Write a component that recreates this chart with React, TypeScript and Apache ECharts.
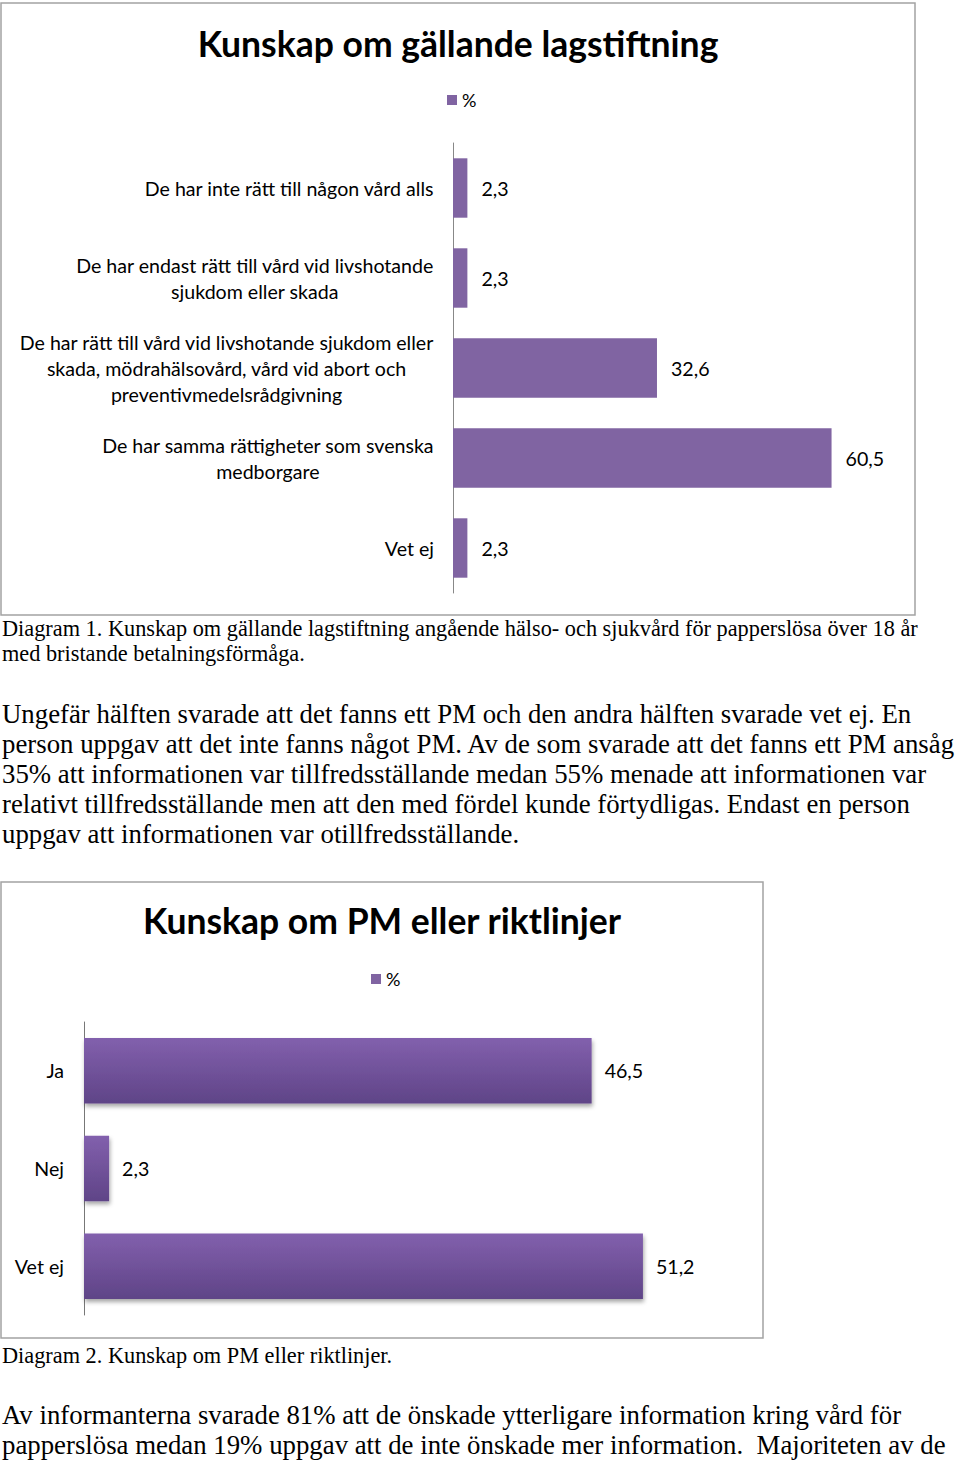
import React, { useEffect, useRef } from "react";
import * as echarts from "echarts";

const categories1 = [
  "De har inte rätt till någon vård alls",
  "De har endast rätt till vård vid livshotande\nsjukdom eller skada",
  "De har rätt till vård vid livshotande sjukdom eller\nskada, mödrahälsovård, vård vid abort och\npreventivmedelsrådgivning",
  "De har samma rättigheter som svenska\nmedborgare",
  "Vet ej",
];
const values1 = [2.3, 2.3, 32.6, 60.5, 2.3];

const categories2 = ["Ja", "Nej", "Vet ej"];
const values2 = [46.5, 2.3, 51.2];

const seriesName = "%";
const title1 = "Kunskap om gällande lagstiftning";
const title2 = "Kunskap om PM eller riktlinjer";

const caption1Lines = [
  "Diagram 1. Kunskap om gällande lagstiftning angående hälso- och sjukvård för papperslösa över 18 år",
  "med bristande betalningsförmåga.",
];
const paragraph1Lines = [
  "Ungefär hälften svarade att det fanns ett PM och den andra hälften svarade vet ej. En",
  "person uppgav att det inte fanns något PM. Av de som svarade att det fanns ett PM ansåg",
  "35% att informationen var tillfredsställande medan 55% menade att informationen var",
  "relativt tillfredsställande men att den med fördel kunde förtydligas. Endast en person",
  "uppgav att informationen var otillfredsställande.",
];
const caption2Lines = ["Diagram 2. Kunskap om PM eller riktlinjer."];
const paragraph2Lines = [
  "Av informanterna svarade 81% att de önskade ytterligare information kring vård för",
  "papperslösa medan 19% uppgav att de inte önskade mer information.  Majoriteten av de",
];

const SANS = "Lato, 'Open Sans', sans-serif";
const SERIF = "'Liberation Serif', 'DejaVu Serif', serif";
const LABEL_SIZE = 19.6;
const fmt = (v: number) => v.toFixed(1).replace(".", ",");

function textLines(lines: string[], y0: number, step: number, size: number) {
  return lines.map((t, i) => ({
    type: "text",
    left: 2,
    top: y0 + i * step - size * 0.58,
    style: { text: t, font: `${size}px ${SERIF}`, fill: "#000" },
  }));
}

export default function App() {
  const ref = useRef<HTMLDivElement>(null);
  useEffect(() => {
    if (!ref.current) return;
    const chart = echarts.init(ref.current, undefined, { renderer: "svg" });
    const purple = "#8064a2";
    const legendBase = {
      data: [seriesName],
      icon: "rect",
      itemWidth: 10,
      itemHeight: 10,
      itemGap: 4,
      padding: 0,
      selectedMode: false,
      textStyle: { fontFamily: SANS, fontSize: 18, color: "#000", padding: [0, 0, 0, 0] },
    };
    const option: any = {
      animation: false,
      backgroundColor: "#fff",
      title: [
        {
          text: title1,
          left: 458,
          top: 25,
          padding: 0,
          textAlign: "center",
          textStyle: { fontFamily: SANS, fontWeight: "bold", fontSize: 35.5, color: "#000" },
        },
        {
          text: title2,
          left: 382,
          top: 902,
          padding: 0,
          textAlign: "center",
          textStyle: { fontFamily: SANS, fontWeight: "bold", fontSize: 35.5, color: "#000" },
        },
      ],
      legend: [
        { ...legendBase, left: 447, top: 91 },
        { ...legendBase, left: 371, top: 970 },
      ],
      grid: [
        { left: 453, top: 143, width: 438, height: 450 },
        { left: 84, top: 1022, width: 655, height: 293 },
      ],
      xAxis: [
        { type: "value", gridIndex: 0, min: 0, max: 70, show: false },
        { type: "value", gridIndex: 1, min: 0, max: 60, show: false },
      ],
      yAxis: [
        {
          type: "category",
          gridIndex: 0,
          data: categories1,
          inverse: true,
          axisLine: { show: true, lineStyle: { color: "#888", width: 1 } },
          axisTick: { show: false },
          axisLabel: {
            margin: 19,
            formatter: (v: string) => v.split("\n").map((l) => `{c|${l}}`).join("\n"),
            rich: { c: { align: "center", fontFamily: SANS, fontSize: LABEL_SIZE, lineHeight: 26, color: "#000" } },
          },
        },
        {
          type: "category",
          gridIndex: 1,
          data: categories2,
          inverse: true,
          axisLine: { show: true, lineStyle: { color: "#777", width: 1 } },
          axisTick: { show: false },
          axisLabel: { margin: 20, fontFamily: SANS, fontSize: LABEL_SIZE, color: "#000" },
        },
      ],
      series: [
        {
          name: seriesName,
          type: "bar",
          xAxisIndex: 0,
          yAxisIndex: 0,
          data: values1,
          barCategoryGap: "34%",
          itemStyle: { color: purple },
          label: {
            show: true,
            position: "right",
            distance: 14,
            formatter: (p: any) => fmt(p.value),
            fontFamily: SANS,
            fontSize: LABEL_SIZE,
            color: "#000",
          },
        },
        {
          name: seriesName,
          type: "bar",
          xAxisIndex: 1,
          yAxisIndex: 1,
          data: values2,
          barCategoryGap: "33%",
          itemStyle: {
            color: new echarts.graphic.LinearGradient(0, 0, 0, 1, [
              { offset: 0, color: "#8260ad" },
              { offset: 1, color: "#5f4487" },
            ]),
            shadowColor: "rgba(0,0,0,0.35)",
            shadowBlur: 4,
            shadowOffsetY: 3,
            shadowOffsetX: 1,
          },
          label: {
            show: true,
            position: "right",
            distance: 13,
            formatter: (p: any) => fmt(p.value),
            fontFamily: SANS,
            fontSize: LABEL_SIZE,
            color: "#000",
          },
        },
      ],
      graphic: [
        {
          type: "rect",
          shape: { x: 1, y: 3, width: 914, height: 612 },
          style: { fill: "none", stroke: "#a3a3a3", lineWidth: 1.5 },
          z: -1,
        },
        {
          type: "rect",
          shape: { x: 1, y: 882, width: 762, height: 456 },
          style: { fill: "none", stroke: "#a3a3a3", lineWidth: 1.5 },
          z: -1,
        },
        ...textLines(caption1Lines, 630, 25, 22.3),
        ...textLines(paragraph1Lines, 716, 30, 26.8),
        ...textLines(caption2Lines, 1357, 25, 22.3),
        ...textLines(paragraph2Lines, 1417, 30, 26.8),
      ],
    };
    chart.setOption(option);
    return () => chart.dispose();
  }, []);
  return (
    <div
      ref={ref}
      style={{ position: "absolute", left: 0, top: 0, width: 960, height: 1462, background: "#fff" }}
    />
  );
}
